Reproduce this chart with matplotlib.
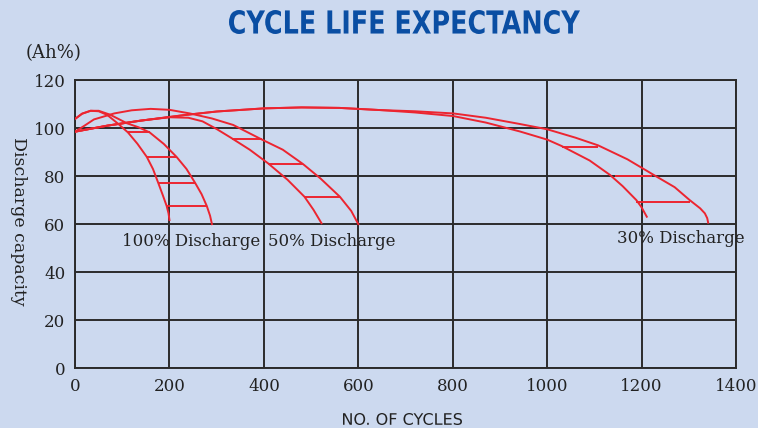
import matplotlib
matplotlib.use("Agg")
import matplotlib.pyplot as plt
import matplotlib.transforms as mtransforms
from matplotlib.textpath import TextPath
from matplotlib.patches import PathPatch
from matplotlib.font_manager import FontProperties

# capacity (%) vs number of cycles
cyc_100_in = [0, 15, 33, 50, 68, 90, 112, 132, 152, 165, 176, 186, 194, 198, 200]
cap_100_in = [103.8, 106, 107.2, 107, 105.5, 102, 98.2, 93.5, 88, 83, 77.3, 72, 67.6, 64.5, 61.7]
cyc_100_out = [0, 15, 33, 50, 74, 110, 135, 158, 188, 215, 236, 254, 268, 279, 286, 290]
cap_100_out = [103.8, 106, 107.2, 107.2, 105.6, 102, 100.3, 98.2, 93.4, 88, 83, 77.3, 72.5, 67.6, 63.5, 60]

cyc_50_in = [0, 68, 139, 200, 240, 270, 300, 330, 370, 409, 450, 486, 505, 522]
cap_50_in = [98.5, 101, 103.1, 104.5, 104.3, 102.8, 99.6, 96, 91, 85.3, 78.5, 71.4, 66, 60.4]
cyc_50_out = [0, 20, 40, 83, 120, 160, 200, 243, 290, 335, 395, 440, 483, 520, 561, 585, 600]
cap_50_out = [98.5, 101, 103.6, 106.1, 107.4, 108, 107.6, 106.1, 104, 101.3, 95.3, 91, 85, 79, 71.4, 65.5, 60]

cyc_30_in = [0, 68, 139, 231, 300, 400, 480, 560, 646, 720, 801, 870, 942, 1000, 1031,
             1090, 1133, 1160, 1189, 1200, 1211]
cap_30_in = [98.5, 101, 103.1, 105.4, 106.9, 108.2, 108.6, 108.4, 107.5, 106.5, 105, 102.3,
             98.6, 95.2, 92.5, 86.5, 80.5, 75.8, 70, 67, 63.1]
cyc_30_out = [0, 68, 139, 231, 300, 400, 480, 560, 646, 720, 801, 870, 942, 1000, 1060,
              1108, 1170, 1230, 1270, 1302, 1324, 1334, 1339, 1341]
cap_30_out = [98.5, 101, 103.1, 105.4, 106.9, 108.2, 108.6, 108.4, 107.5, 107, 106.1, 104.3,
              101.7, 99.5, 96, 92.8, 87, 80, 75.4, 70, 66.6, 64.5, 62.5, 60.6]

# horizontal hatch lines between the band limits
hatch_y = [98.2, 88, 77.3, 67.6, 95.5, 85, 71.4, 92.2, 80.2, 69.4]
hatch_x0 = [112, 152, 176, 194, 333, 409, 486, 1031, 1144, 1189]
hatch_x1 = [158, 215, 254, 279, 397, 483, 561, 1108, 1221, 1302]

x_ticks = [0, 200, 400, 600, 800, 1000, 1200, 1400]
y_ticks = [0, 20, 40, 60, 80, 100, 120]

bg = "#ccd9ef"
red = "#ec2530"
ink = "#222222"

fig = plt.figure(figsize=(7.58, 4.28), dpi=100, facecolor=bg)
ax = fig.add_axes([0.099, 0.1395, 0.872, 0.6735], facecolor=bg)

curves = [(cyc_100_in, cap_100_in), (cyc_100_out, cap_100_out),
          (cyc_50_in, cap_50_in), (cyc_50_out, cap_50_out),
          (cyc_30_in, cap_30_in), (cyc_30_out, cap_30_out)]
for cx, cy in curves:
    ax.plot(cx, cy, color=red, lw=1.4, zorder=3, solid_joinstyle="round")
ax.hlines(hatch_y, hatch_x0, hatch_x1, color=red, lw=1.4, zorder=3)

ax.set_xlim(0, 1400)
ax.set_ylim(0, 120)
ax.set_xticks(x_ticks)
ax.set_yticks(y_ticks)
ax.grid(True, color="#2b2b2b", lw=1.4, zorder=1)
for s in ax.spines.values():
    s.set_color("#2b2b2b")
    s.set_linewidth(1.4)
ax.tick_params(length=0, pad=7, labelsize=12, colors=ink)
for lab in ax.get_xticklabels() + ax.get_yticklabels():
    lab.set_family("DejaVu Serif")

txt = dict(family="DejaVu Serif", fontsize=12, color=ink, va="center",
           clip_on=False, zorder=4)
ax.text(99, 52.6, "100% Discharge", **txt)
ax.text(409, 52.6, "50% Discharge", **txt)
ax.text(1148, 54.2, "30% Discharge", **txt)


def squeezed_text(s, x0, x1, y_base, y_top, color, weight="normal"):
    # draw text as a path fitted into a pixel box (top-left pixel coords), condensed look
    tp = TextPath((0, 0), s, size=50, prop=FontProperties(family="DejaVu Sans", weight=weight))
    ext = tp.get_extents()
    sx = (x1 - x0) / ext.width
    sy = (y_base - y_top) / ext.height
    tr = mtransforms.Affine2D().translate(-ext.x0, -ext.y0).scale(sx, sy).translate(x0, 428 - y_base)
    fig.patches.append(PathPatch(tp, transform=tr, facecolor=color, edgecolor="none"))


squeezed_text("CYCLE LIFE EXPECTANCY", 229, 580, 34, 10, "#0a4ea3", weight="bold")
squeezed_text("NO. OF CYCLES", 343, 462, 425, 413, ink)

fig.text(0.071, 0.876, "(Ah%)", ha="center", va="center", family="DejaVu Serif",
         fontsize=13, color=ink)
fig.text(0.025, 0.483, "Discharge capacity", ha="center", va="center", rotation=-90,
         family="DejaVu Serif", fontsize=12.5, color=ink)

fig.savefig("out.png", dpi=100, facecolor=bg)
